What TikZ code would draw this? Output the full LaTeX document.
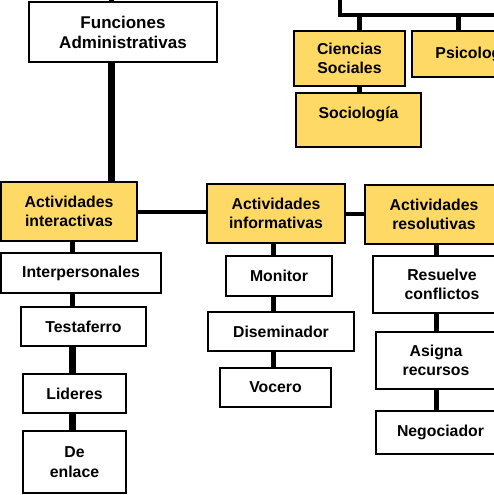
\documentclass[tikz,border=0pt]{standalone}
\usepackage{fontspec}
\setmainfont{Liberation Sans}
\definecolor{amarillo}{RGB}{255,217,102}
\begin{document}
\begin{tikzpicture}
  [x=1pt,y=-1pt,
   every node/.style={draw,line width=1.8pt,inner sep=0pt,align=center,fill=white,
     font=\fontsize{15.8}{19.5}\selectfont\bfseries},
   caja/.style 2 args={minimum width=#1pt,minimum height=#2pt},
   act/.style={fill=amarillo},
   link/.style={line width=5pt},
   thinlink/.style={line width=4pt},
   thicklink/.style={line width=7pt}]
  \useasboundingbox (0,0) rectangle (494,495);
  \clip (0,0) rectangle (494,495);
  \node[caja={188}{60},font=\fontsize{17}{20}\selectfont\bfseries] (funciones) at (123,32) {Funciones\\Administrativas};
  \node[caja={111}{55},act] (ciencias) at (349.5,58.5) {Ciencias\\Sociales};
  \node[caja={126}{46},act] (psicologia) at (475,54) {Psicología};
  \node[minimum width=125pt,text height=25pt,text depth=29pt,act] (sociologia) at (358.5,120) {Sociología};
  \node[caja={136}{59},act] (interactivas) at (69,211.5) {Actividades\\interactivas};
  \node[caja={138}{59},act] (informativas) at (276,213.5) {Actividades\\informativas};
  \node[caja={138}{59},act] (resolutivas) at (434,214.5) {Actividades\\resolutivas};
  \node[caja={160}{40}] (interpersonales) at (81,273) {Interpersonales};
  \node[caja={125}{39}] (testaferro) at (83.5,326.5) {Testaferro};
  \node[caja={103}{39}] (lideres) at (74.5,393.5) {Lideres};
  \node[caja={103}{62}] (enlace) at (74.5,462) {De\\enlace};
  \node[caja={106}{40}] (monitor) at (279,276) {Monitor};
  \node[caja={146}{39}] (diseminador) at (281,331.5) {Diseminador};
  \node[caja={111}{39}] (vocero) at (275.5,387.5) {Vocero};
  \node[caja={138}{57}] (resuelve) at (442,284.5) {Resuelve\\conflictos};
  \node[caja={120}{57}] (asigna) at (436,360.5) {Asigna\\recursos};
  \node[caja={129}{43}] (negociador) at (440.5,432.5) {Negociador};

  \coordinate (fa) at (111,-5);
  \coordinate (arriba) at (340,-5);
  \coordinate (barra) at (340,15);
  \coordinate (barraR) at (520,15);
  \coordinate (cs) at (359,15);
  \coordinate (ps) at (458,15);
  \coordinate (colA) at (72,0);
  \coordinate (colB) at (273,0);
  \coordinate (colC) at (436,0);

  \draw[link] (fa) -- (fa |- funciones.north);
  \draw[thicklink] (fa |- funciones.south) -- (fa |- interactivas.north);
  \draw[thinlink] (arriba) -- (barra) -- (barraR);
  \draw[link] (cs) -- (cs |- ciencias.north);
  \draw[link] (ps) -- (ps |- psicologia.north);
  \draw[link] (cs |- ciencias.south) -- (cs |- sociologia.north);
  \draw[thinlink] (interactivas.east) -- (informativas.west |- interactivas.east);
  \draw[thinlink] (informativas.east) -- (resolutivas.west |- informativas.east);

  \foreach \from/\to/\col in {interactivas/interpersonales/colA,interpersonales/testaferro/colA,
    informativas/monitor/colB,monitor/diseminador/colB,diseminador/vocero/colB,
    resolutivas/resuelve/colC,resuelve/asigna/colC,asigna/negociador/colC}
    \draw[link] (\col |- \from.south) -- (\col |- \to.north);
  \foreach \from/\to in {testaferro/lideres,lideres/enlace}
    \draw[thicklink] (colA |- \from.south) -- (colA |- \to.north);
\end{tikzpicture}
\end{document}
